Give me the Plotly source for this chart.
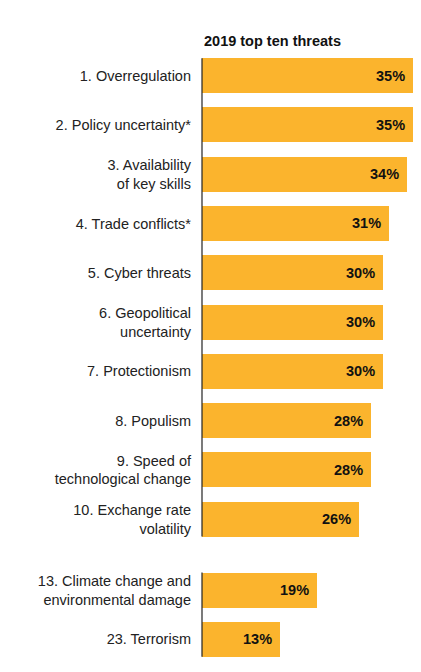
import plotly.graph_objects as go

# ---- data ----
categories = [
    "1. Overregulation",
    "2. Policy uncertainty*",
    "3. Availability<br>of key skills",
    "4. Trade conflicts*",
    "5. Cyber threats",
    "6. Geopolitical<br>uncertainty",
    "7. Protectionism",
    "8. Populism",
    "9. Speed of<br>technological change",
    "10. Exchange rate<br>volatility",
    "13. Climate change and<br>environmental damage",
    "23. Terrorism",
]
values = [35, 35, 34, 31, 30, 30, 30, 28, 28, 26, 19, 13]
title_text = "2019 top ten threats"

# ---- layout helpers ----
top_n = 10
gap = 0.44
positions = [i if i < top_n else i + gap for i in range(len(categories))]
bar_w = 0.71
bar_color = "#FBB42D"
font_family = "Liberation Sans, Arial, Helvetica, sans-serif"

fig = go.Figure()
fig.add_trace(go.Bar(
    x=values, y=positions, orientation="h", width=bar_w,
    marker=dict(color=bar_color, line=dict(width=0)),
    hoverinfo="skip",
))

for v, p in zip(values, positions):
    fig.add_annotation(
        x=v, y=p, xref="x", yref="y", text=f"<b>{v}%</b>", showarrow=False,
        xanchor="right", yanchor="middle", xshift=-6,
        font=dict(size=14.5, color="#111", family=font_family),
    )

# axis line segments (broken between groups)
groups = [(positions[0], positions[top_n - 1]), (positions[top_n], positions[-1])]
for a, b in groups:
    fig.add_shape(type="line", xref="paper", yref="y", x0=0, x1=0,
                  y0=a - bar_w / 2, y1=b + bar_w / 2,
                  line=dict(color="#222", width=1.2), layer="above")

fig.add_annotation(
    x=0, y=1, xref="paper", yref="paper", text=f"<b>{title_text}</b>",
    showarrow=False, xanchor="left", yanchor="bottom", yshift=0,
    font=dict(size=14.5, color="#111", family=font_family),
)

fig.update_layout(
    width=405, height=656,
    margin=dict(l=194, r=0, t=43, b=0, autoexpand=False),
    paper_bgcolor="white", plot_bgcolor="white",
    showlegend=False, bargap=0,
    font=dict(family=font_family, size=14.5, color="#222"),
    xaxis=dict(range=[0, 35], visible=False, fixedrange=True, automargin=False),
    yaxis=dict(
        range=[positions[-1] + 0.5, -0.5],
        tickvals=positions, ticktext=categories,
        showgrid=False, zeroline=False, showline=False,
        ticks="", ticklabelstandoff=10, automargin=False,
        tickfont=dict(size=14.5, color="#222", family=font_family),
        fixedrange=True,
    ),
)

fig.write_html("out.html")
